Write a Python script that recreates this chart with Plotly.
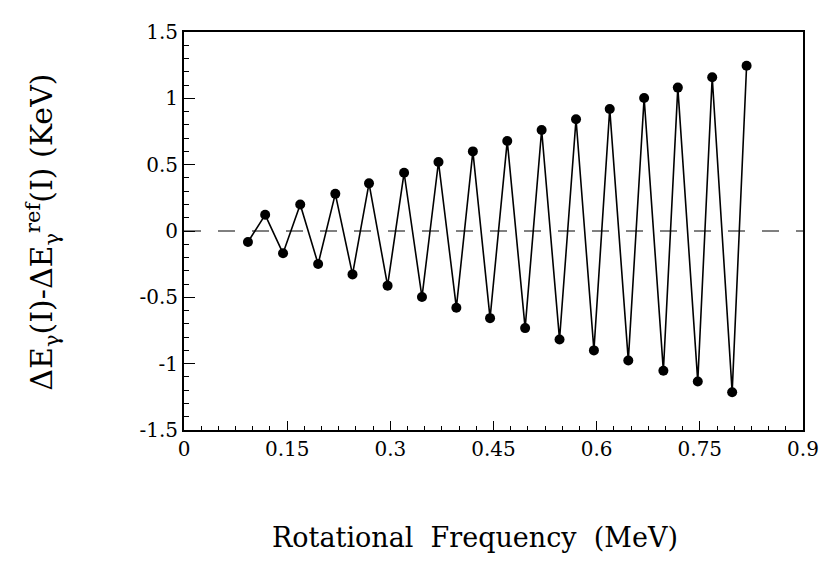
import plotly.graph_objects as go

freq = [0.093, 0.118, 0.144, 0.169, 0.195, 0.220, 0.245, 0.269, 0.296, 0.320,
        0.346, 0.370, 0.396, 0.420, 0.445, 0.470, 0.496, 0.520, 0.546, 0.570,
        0.596, 0.619, 0.646, 0.669, 0.697, 0.718, 0.747, 0.768, 0.797, 0.818]
delta = [-0.083, 0.122, -0.168, 0.200, -0.249, 0.280, -0.327, 0.359, -0.412, 0.439,
         -0.498, 0.520, -0.578, 0.600, -0.657, 0.679, -0.732, 0.761, -0.818, 0.842,
         -0.900, 0.920, -0.976, 1.003, -1.054, 1.081, -1.135, 1.159, -1.215, 1.245]
x_ticks = [0, 0.15, 0.3, 0.45, 0.6, 0.75, 0.9]
x_labels = ["0", "0.15", "0.3", "0.45", "0.6", "0.75", "0.9"]
y_ticks = [-1.5, -1, -0.5, 0, 0.5, 1, 1.5]
y_labels = ["-1.5", "-1", "-0.5", "0", "0.5", "1", "1.5"]

serif = "DejaVu Serif"

# page has an 8px body margin; figure is sized so the plot area lands at
# x 184..806, y 20..430 of the window
OFF = 8
W, H = 831 - OFF, 566 - OFF
L, R, T, B = 184 - OFF, 25, 20 - OFF, 136
pw = W - L - R
ph = H - T - B


def px_to_paper(xw, yw):
    return (xw - OFF - L) / pw, 1 - (yw - OFF - T) / ph


fig = go.Figure()
fig.add_trace(go.Scatter(x=[0, 0.9], y=[0, 0], mode="lines",
                         line=dict(color="black", width=1, dash="17px,17px"),
                         hoverinfo="skip", showlegend=False))
fig.add_trace(go.Scatter(x=freq, y=delta, mode="lines+markers",
                         line=dict(color="black", width=1.6),
                         marker=dict(color="black", size=10),
                         showlegend=False))

xt_x, xt_y = px_to_paper(476, 541)
yt_x, yt_y = px_to_paper(42, 226)

fig.update_layout(
    width=W, height=H,
    margin=dict(l=L, r=R, t=T, b=B),
    paper_bgcolor="white", plot_bgcolor="white",
    font=dict(family=serif, color="black", size=20),
    xaxis=dict(range=[0, 0.9], tickvals=x_ticks, ticktext=x_labels,
               ticks="inside", ticklen=9, tickwidth=1.2, tickcolor="black",
               minor=dict(dtick=0.025, tick0=0, ticks="inside", ticklen=4, tickcolor="black"),
               showline=True, linecolor="black", linewidth=1.6, mirror=True,
               showgrid=False, zeroline=False, tickfont=dict(size=20, family=serif)),
    yaxis=dict(range=[-1.5, 1.5], tickvals=y_ticks, ticktext=y_labels,
               ticks="inside", ticklen=11, tickwidth=1.2, tickcolor="black",
               minor=dict(dtick=0.1, tick0=0, ticks="inside", ticklen=5, tickcolor="black"),
               showline=True, linecolor="black", linewidth=1.8, mirror=True,
               showgrid=False, zeroline=False, tickfont=dict(size=20, family=serif)),
    annotations=[
        dict(text="Rotational  Frequency  (MeV)", x=xt_x, y=xt_y,
             xref="paper", yref="paper", xanchor="center", yanchor="middle",
             showarrow=False, font=dict(size=27, family=serif)),
        dict(text="ΔE<sub>γ</sub>(I)-ΔE<sub>γ</sub><sup>ref</sup>(I) (KeV)",
             x=yt_x, y=yt_y, xref="paper", yref="paper",
             xanchor="center", yanchor="middle", showarrow=False,
             textangle=-90, font=dict(size=30, family=serif)),
    ],
)

fig.write_html("out.html")
